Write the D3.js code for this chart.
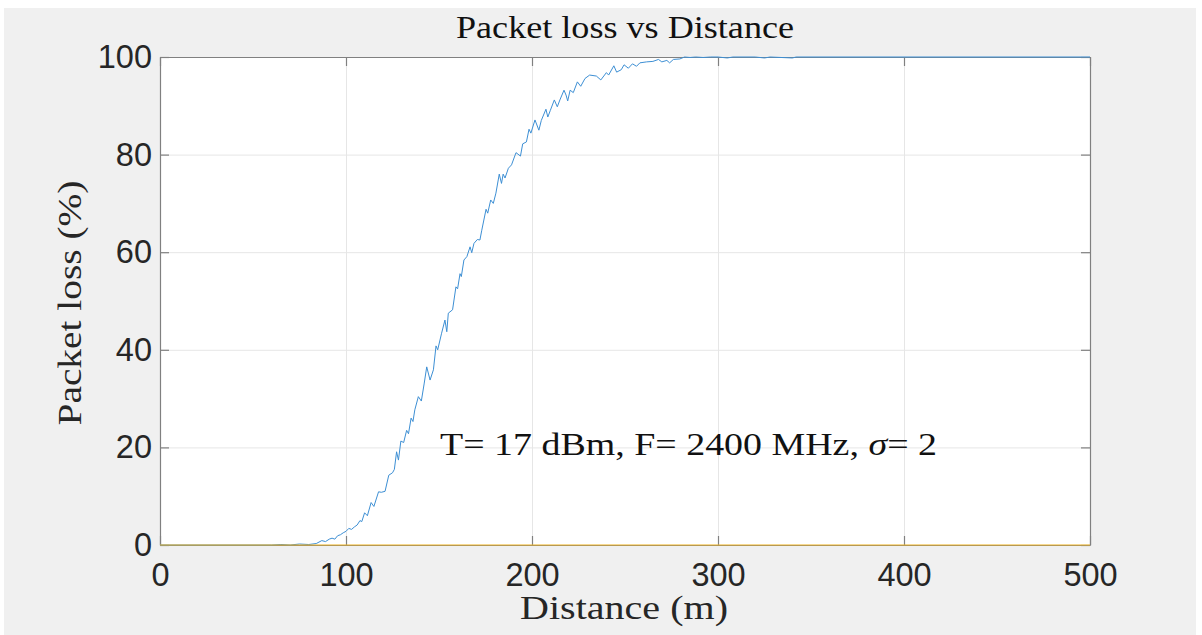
<!DOCTYPE html>
<html>
<head>
<meta charset="utf-8">
<script src="https://cdn.jsdelivr.net/npm/d3@7"></script>
<style>
  html, body { margin: 0; padding: 0; background: #ffffff; }
  svg { display: block; }
</style>
</head>
<body>
<svg id="chart" width="1202" height="635"></svg>
<script>
// Measured packet loss (%) against link distance (m)
const distance = [0, 60, 65, 70, 75, 80, 84, 87, 89, 91, 92.5, 94, 95.5, 97, 98.5, 100,
  101.5, 103, 104.5, 106, 107.5, 108.5, 110, 111.5, 113.5, 115, 117.5, 119, 121, 123,
  125, 126, 127.2, 128.2, 129.5, 131, 132.6, 133.6, 135, 136, 137, 138.9, 140.5, 142,
  143.4, 145.2, 147, 148.4, 149.3, 151.4, 153.2, 154.2, 155, 157.3, 159.1, 160, 161.3,
  162, 163.4, 165, 166.7, 167.6, 168.8, 170.6, 172, 173, 175.3, 176.2, 177.8, 179.2,
  180.6, 182.4, 183.6, 184.5, 185.5, 187.3, 189, 191.4, 193.8, 195, 197, 198.4, 199.4,
  201.6, 203.7, 205, 207.5, 208.5, 209.8, 212, 213.6, 215, 217.2, 218.3, 219.2, 220.5,
  222.2, 224.4, 226.2, 228.5, 231, 234.6, 237, 240, 241.2, 244, 245.5, 248, 249.5,
  251.8, 254, 256.2, 258, 261.6, 265, 268, 269.8, 272.5, 274, 276, 279.5, 282, 285,
  288, 292, 296, 300, 305, 308, 320, 325, 328, 340, 342, 500];
const packetLoss = [0, 0, 0.1, 0, 0.2, 0.1, 0.3, 0.9, 0.7, 1.2, 1.4, 1.2, 1.9, 2.1, 2.5, 2.8,
  3.4, 3.2, 3.7, 4.1, 5.0, 4.8, 6.6, 6.0, 8.7, 7.9, 10.9, 10.8, 11.0, 14.3,
  14.8, 15.5, 19.1, 17.4, 21.3, 21.0, 23.5, 22.8, 26.0, 25.3, 27.7, 30.4, 29.5, 33.0,
  36.5, 33.8, 35.9, 40.8, 40.0, 43.4, 46.1, 43.7, 47.5, 48.2, 52.9, 52.5, 55.6,
  55.0, 58.4, 59.1, 61.1, 59.9, 61.8, 62.6, 62.5, 64.5, 68.8, 68.0, 70.7, 70.0,
  72.1, 76.0, 74.1, 76.0, 75.2, 77.2, 77.9, 80.4, 79.7, 82.2, 82.6, 85.2, 84.4,
  87.1, 85.0, 87.0, 89.3, 87.7, 89.0, 91.2, 89.8, 91.2, 93.2, 92.2, 91.0, 93.2,
  92.7, 94.9, 94.0, 95.6, 96.3, 96.1, 95.3, 96.8, 96.3, 98.2, 96.9, 97.4, 98.4,
  97.7, 98.6, 98.1, 98.8, 99.0, 99.1, 99.5, 99.0, 99.3, 98.8, 99.5, 99.6, 100, 99.9,
  100, 99.9, 100, 100, 99.8, 100, 100, 99.8, 100, 99.8, 100, 100];

// Zero-loss reference series
const baselineDistance = [0, 500];
const baselineLoss = [0, 0];

const xTicks = [0, 100, 200, 300, 400, 500];
const yTicks = [0, 20, 40, 60, 80, 100];

const titleText = "Packet loss vs Distance";
const xLabelText = "Distance (m)";
const yLabelText = "Packet loss (%)";

const svg = d3.select("#chart");
const plot = { left: 160, right: 1090, top: 57, bottom: 545 };

const x = d3.scaleLinear().domain([0, 500]).range([plot.left, plot.right]);
const y = d3.scaleLinear().domain([0, 100]).range([plot.bottom, plot.top]);

// Figure background
svg.append("rect")
  .attr("x", 4).attr("y", 8).attr("width", 1192).attr("height", 627)
  .attr("fill", "#f0f0f0");

// Axes area
svg.append("rect")
  .attr("x", plot.left).attr("y", plot.top)
  .attr("width", plot.right - plot.left).attr("height", plot.bottom - plot.top)
  .attr("fill", "#ffffff");

// Grid lines
const gridColor = "#e6e6e6";
svg.append("g")
  .attr("transform", `translate(0,${plot.bottom})`)
  .call(d3.axisBottom(x).tickValues(xTicks).tickSize(-(plot.bottom - plot.top)).tickFormat(""))
  .call(g => g.select(".domain").remove())
  .call(g => g.selectAll("line").attr("stroke", gridColor).attr("stroke-width", 1));
svg.append("g")
  .attr("transform", `translate(${plot.left},0)`)
  .call(d3.axisLeft(y).tickValues(yTicks).tickSize(-(plot.right - plot.left)).tickFormat(""))
  .call(g => g.select(".domain").remove())
  .call(g => g.selectAll("line").attr("stroke", gridColor).attr("stroke-width", 1));

const axisColor = "#808080";
const labelColor = "#262626";
const tickFont = "'Liberation Sans', Arial, Helvetica, sans-serif";
const tickLen = 9;

function styleAxis(g, showLabels) {
  g.select(".domain").attr("stroke", axisColor).attr("stroke-width", 1.2);
  g.selectAll(".tick line").attr("stroke", axisColor).attr("stroke-width", 1.2);
  g.selectAll(".tick text")
    .attr("fill", labelColor)
    .style("font-family", tickFont)
    .style("font-size", "32.5px");
  if (!showLabels) g.selectAll(".tick text").remove();
}

// Bottom / left axes with labels, top / right mirrored without
svg.append("g")
  .attr("transform", `translate(0,${plot.bottom})`)
  .call(d3.axisBottom(x).tickValues(xTicks).tickSizeInner(-tickLen).tickSizeOuter(0).tickPadding(18))
  .call(g => styleAxis(g, true));
svg.append("g")
  .attr("transform", `translate(0,${plot.top})`)
  .call(d3.axisTop(x).tickValues(xTicks).tickSizeInner(-tickLen).tickSizeOuter(0))
  .call(g => styleAxis(g, false));
svg.append("g")
  .attr("transform", `translate(${plot.left},0)`)
  .call(d3.axisLeft(y).tickValues(yTicks).tickSizeInner(-tickLen).tickSizeOuter(0).tickPadding(8))
  .call(g => styleAxis(g, true));
svg.append("g")
  .attr("transform", `translate(${plot.right},0)`)
  .call(d3.axisRight(y).tickValues(yTicks).tickSizeInner(-tickLen).tickSizeOuter(0))
  .call(g => styleAxis(g, false));

// Data series
const line = d3.line().x(d => x(d[0])).y(d => y(d[1]));

svg.append("path")
  .datum(d3.zip(distance, packetLoss))
  .attr("fill", "none")
  .attr("stroke", "#3d8fd4")
  .attr("stroke-width", 1)
  .attr("stroke-linejoin", "round")
  .attr("d", line);

svg.append("path")
  .datum(d3.zip(baselineDistance, baselineLoss))
  .attr("fill", "none")
  .attr("stroke", "#EDB120")
  .attr("stroke-width", 1)
  .attr("d", line);

// Text in a serif face
const serif = "'Liberation Serif', 'DejaVu Serif', serif";

svg.append("text")
  .attr("x", 625).attr("y", 38)
  .attr("text-anchor", "middle")
  .attr("textLength", 338).attr("lengthAdjust", "spacingAndGlyphs")
  .style("font-family", serif).style("font-size", "31px").attr("fill", "#111")
  .text(titleText);

svg.append("text")
  .attr("x", 624).attr("y", 619)
  .attr("text-anchor", "middle")
  .attr("textLength", 208).attr("lengthAdjust", "spacingAndGlyphs")
  .style("font-family", serif).style("font-size", "33px").attr("fill", labelColor)
  .text(xLabelText);

svg.append("text")
  .attr("transform", `translate(81,${(plot.top + plot.bottom) / 2 + 2}) rotate(-90)`)
  .attr("text-anchor", "middle")
  .attr("textLength", 245).attr("lengthAdjust", "spacingAndGlyphs")
  .style("font-family", serif).style("font-size", "33px").attr("fill", labelColor)
  .text(yLabelText);

// Link parameters annotation
const note = svg.append("text")
  .attr("x", 440).attr("y", 455)
  .attr("textLength", 497).attr("lengthAdjust", "spacingAndGlyphs")
  .style("font-family", serif).style("font-size", "31px").attr("fill", "#111");
note.append("tspan").text("T= 17 dBm, F= 2400 MHz, ");
note.append("tspan").style("font-style", "italic").text("σ");
note.append("tspan").text("= 2");
</script>
</body>
</html>
